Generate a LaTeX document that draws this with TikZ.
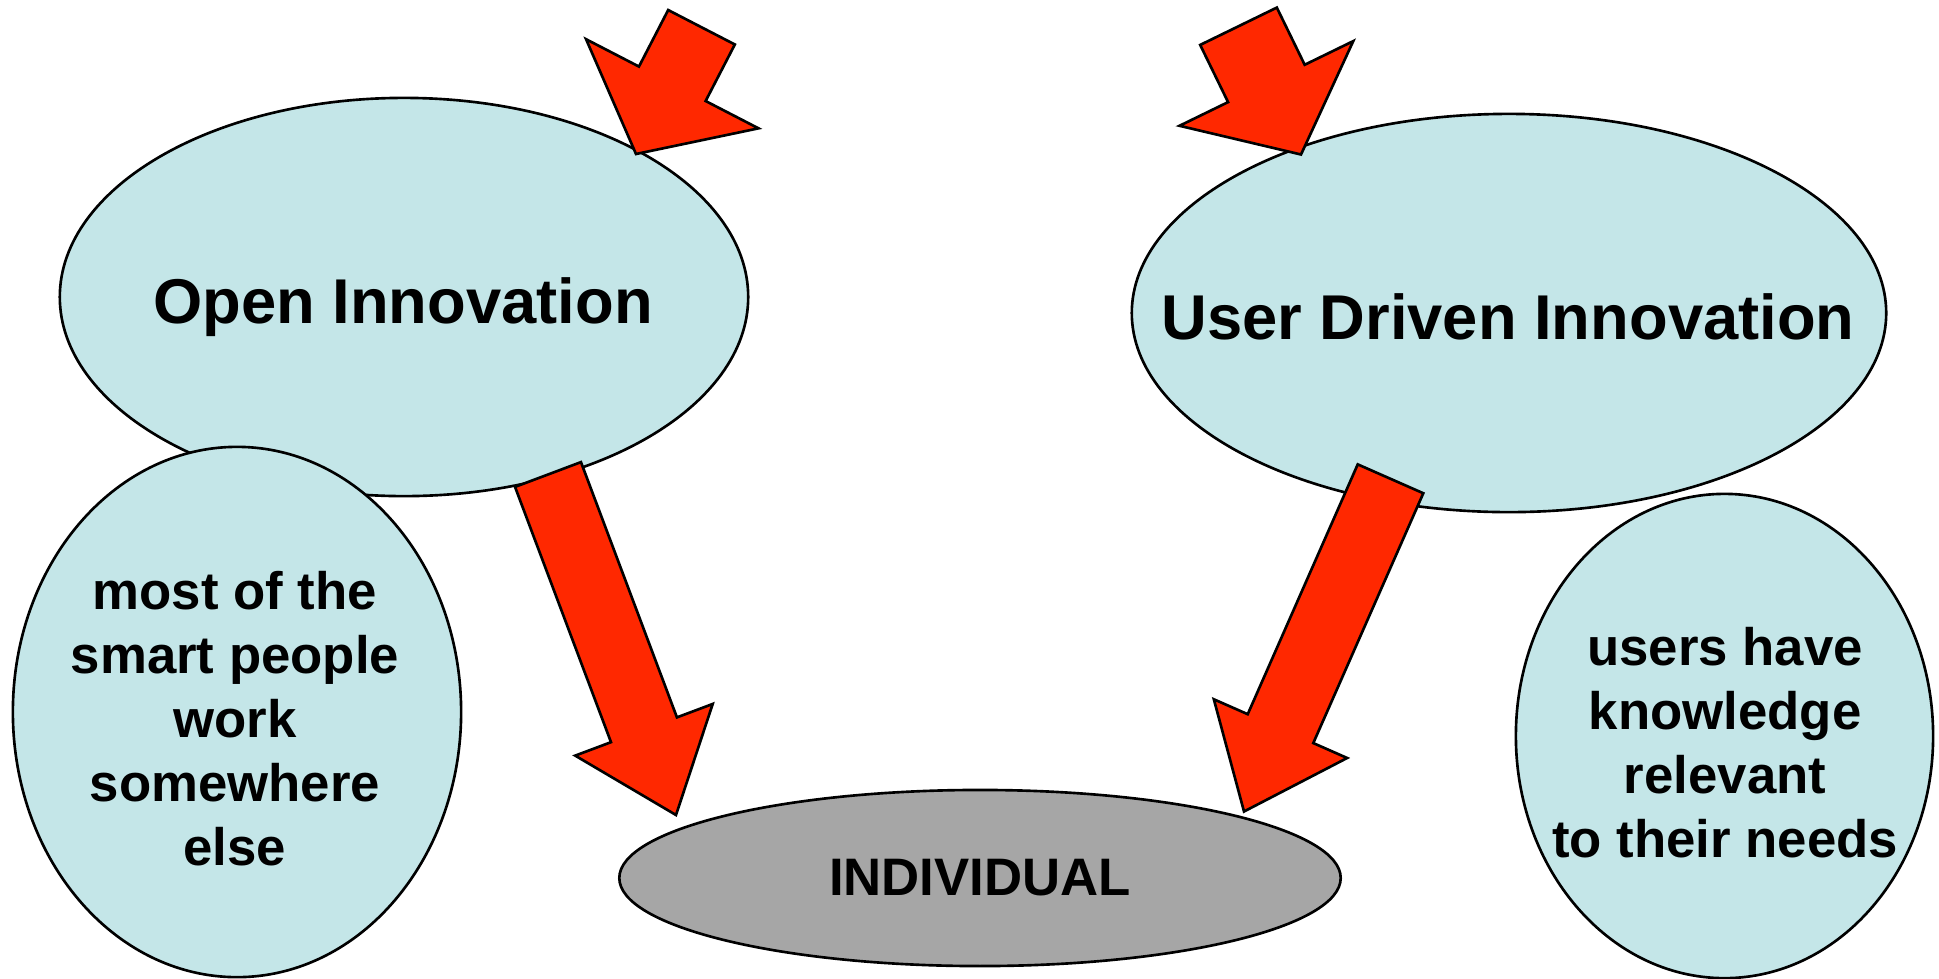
\documentclass[tikz,border=0pt]{standalone}
\usepackage{fontspec}
\setmainfont{Liberation Sans}
\usetikzlibrary{shapes.geometric,calc}

\definecolor{paleblue}{RGB}{196,230,232}
\definecolor{arrowred}{RGB}{255,40,0}
\definecolor{hubgray}{RGB}{166,166,166}

% block arrow: tail, tip, half shaft width, half head width, head length
\newcommand{\blockarrow}[5]{%
\path ($(#2)!#5!(#1)$) coordinate (#1-n);
\draw[blockarrow] ($(#1)!#3!90:(#2)$) -- ($(#1-n)!#3!90:(#2)$) -- ($(#1-n)!#4!90:(#2)$) -- (#2)
  -- ($(#1-n)!#4!-90:(#2)$) -- ($(#1-n)!#3!-90:(#2)$) -- ($(#1)!#3!-90:(#2)$) -- cycle;}

\begin{document}
\begin{tikzpicture}[line cap=round,line join=round,x=0.01cm,y=-0.01cm,
  bubble/.style={ellipse,draw,fill=paleblue,line width=0.75pt,inner sep=0pt},
  hub/.style={ellipse,draw,fill=hubgray,line width=0.75pt,inner sep=0pt,font=\bfseries\fontsize{15}{18}\selectfont},
  bigtext/.style={font=\bfseries\fontsize{18}{22}\selectfont,anchor=base},
  smalltext/.style={font=\bfseries\fontsize{15}{18.2}\selectfont,align=center},
  blockarrow/.style={fill=arrowred,line width=0.75pt,line join=miter}]
\useasboundingbox (0,0) rectangle (1939,978);

\node[bubble,minimum width=6.88cm,minimum height=3.98cm] (open) at (404,297) {};
\node[bubble,minimum width=4.48cm,minimum height=5.3cm] (smart) at (237,712) {};
\node[bubble,minimum width=7.54cm,minimum height=3.98cm] (user) at (1509,313) {};
\node[bubble,minimum width=4.17cm,minimum height=4.84cm] (needs) at (1724.5,736) {};
\node[hub,minimum width=7.21cm,minimum height=1.76cm] (individual) at (980,878) {INDIVIDUAL};

\node[bigtext] (open-text) at (403,323) {Open Innovation};
\node[bigtext] (user-text) at (1508,339) {User Driven Innovation};
\node[smalltext] (smart-text) at (235,719) {most of the\\smart people\\work\\somewhere\\else};
\node[smalltext] (needs-text) at (1725,743) {users have\\knowledge\\relevant\\to their needs};

\coordinate (open-in) at (701.5,27.25);
\coordinate (open-in-tip) at (636,154);
\coordinate (user-in) at (1238.5,26.25);
\coordinate (user-in-tip) at (1301,154.5);
\coordinate (open-out) at (548,474.5);
\coordinate (open-out-tip) at (676,815);
\coordinate (user-out) at (1390.5,478.8);
\coordinate (user-out-tip) at (1244,811.5);

\blockarrow{open-in}{open-in-tip}{0.375cm}{0.97cm}{0.79cm}
\blockarrow{user-in}{user-in-tip}{0.426cm}{0.966cm}{0.79cm}
\blockarrow{open-out}{open-out-tip}{0.352cm}{0.734cm}{0.91cm}
\blockarrow{user-out}{user-out-tip}{0.358cm}{0.728cm}{0.905cm}

\end{tikzpicture}
\end{document}
